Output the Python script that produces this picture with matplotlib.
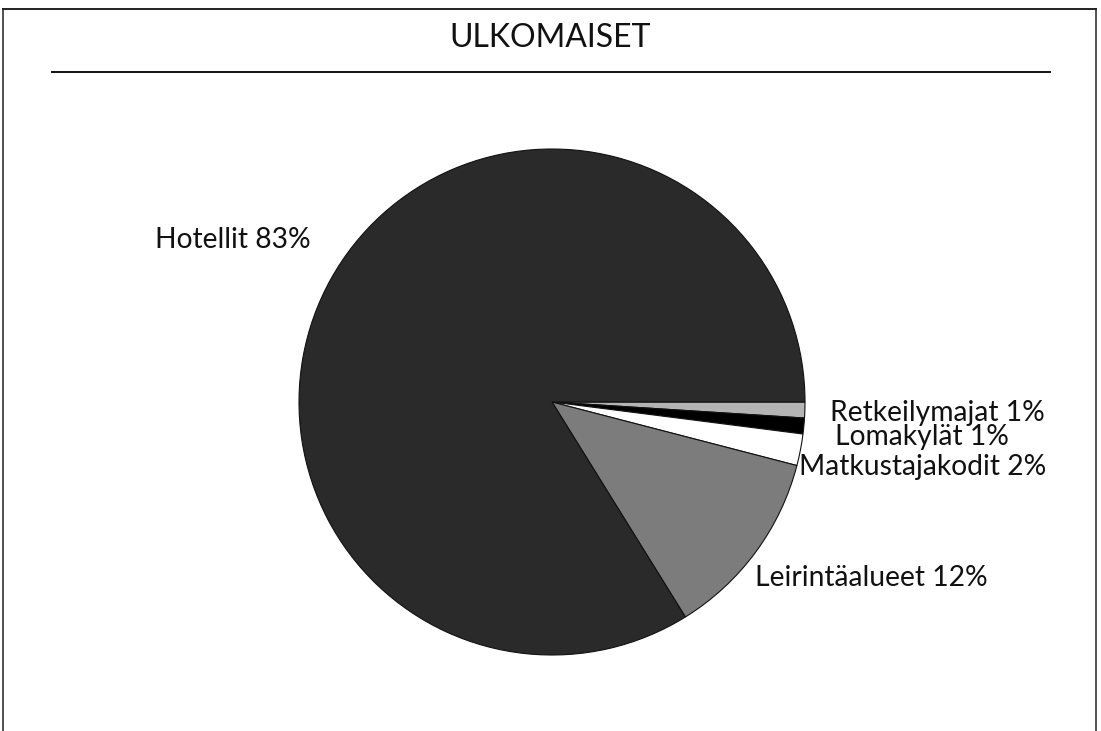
import matplotlib
matplotlib.use("Agg")
import matplotlib.pyplot as plt
from matplotlib.lines import Line2D

plt.rcParams['font.family'] = ['Lato', 'DejaVu Sans']

title = "ULKOMAISET"
categories = ["Retkeilymajat", "Lomakylät", "Matkustajakodit", "Leirintäalueet", "Hotellit"]
values = [1, 1, 2, 12, 83]
colors = ["#b4b4b4", "#000000", "#ffffff", "#7c7c7c", "#2a2a2a"]

W, H = 1101, 731
fig = plt.figure(figsize=(W / 100, H / 100), dpi=100)

def fx(x):
    return x / W

def fy(y):
    return 1 - y / H

# frame
fig.add_artist(Line2D([fx(3), fx(3)], [fy(9), 0], transform=fig.transFigure, color="#333", lw=1.2))
fig.add_artist(Line2D([fx(1096), fx(1096)], [fy(9), 0], transform=fig.transFigure, color="#333", lw=1.2))
fig.add_artist(Line2D([fx(3), fx(1096)], [fy(9), fy(9)], transform=fig.transFigure, color="#222", lw=1.4))
fig.add_artist(Line2D([fx(52), fx(1050)], [fy(72), fy(72)], transform=fig.transFigure, color="#111", lw=1.4))

fig.text(fx(550), fy(38), title, ha="center", va="center", fontsize=23, color="#111")

cx, cy, r = 552, 402, 253
ax = fig.add_axes([fx(cx - r), fy(cy + r), 2 * r / W, 2 * r / H])
wedges, _ = ax.pie(values, colors=colors, startangle=0, counterclock=False,
                   wedgeprops=dict(edgecolor="#111", linewidth=0.8))
ax.set_xlim(-1, 1)
ax.set_ylim(-1, 1)
ax.set_aspect("equal")
ax.axis("off")

labels = [f"{c} {v}%" for c, v in zip(categories, values)]
label_pos = {
    "Retkeilymajat": (830, 413),
    "Lomakylät": (835, 437),
    "Matkustajakodit": (799, 467),
    "Leirintäalueet": (755, 578),
    "Hotellit": (155, 240),
}
for c, lab in zip(categories, labels):
    x, y = label_pos[c]
    fig.text(fx(x), fy(y), lab, ha="left", va="center", fontsize=20.3, color="#111")

fig.savefig("out.png", dpi=100)
